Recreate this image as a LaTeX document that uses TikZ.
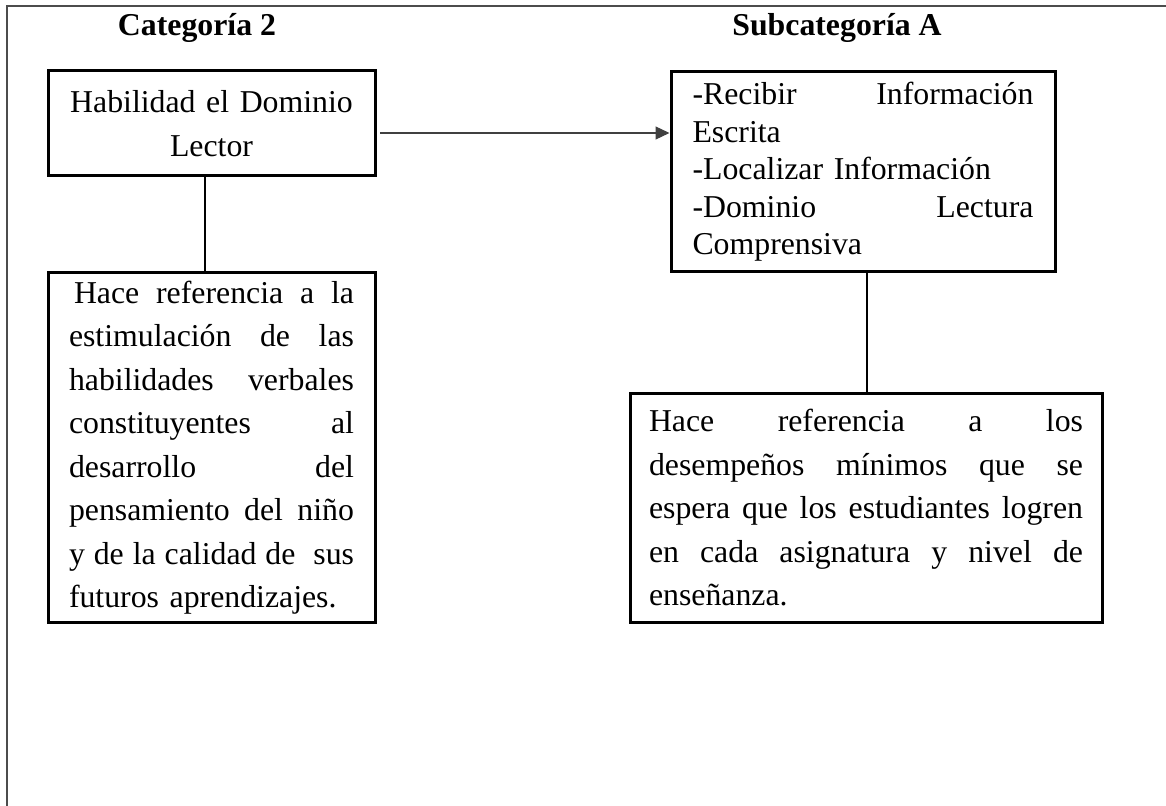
\documentclass[tikz,border=0pt]{standalone}
\usepackage{fontspec}
\setmainfont{Liberation Serif}
\usepackage{tikz}
\usetikzlibrary{arrows.meta}

\newcommand{\jl}[1]{\makebox[\linewidth][s]{\spaceskip=0pt\xspaceskip=0pt\relax#1}}

\begin{document}
\begin{tikzpicture}[x=0.5pt,y=-0.5pt,inner sep=0pt,
                    font=\fontsize{15.9pt}{21.75pt}\selectfont]
  \tikzstyle{caja}=[draw=black,line width=1.5pt,text=black]
  \tikzstyle{titulo}=[font=\fontsize{15.9pt}{21.75pt}\selectfont\bfseries,anchor=base]
  \tikzstyle{linea}=[draw=black,line width=1pt]
  \tikzstyle{flecha}=[draw=black!75,line width=0.6pt,-{Triangle[length=7pt,width=6.5pt]}]

  \useasboundingbox (0,0) rectangle (1166,806);
  % marco de la tabla
  \draw[black!70,line width=1pt] (1166,6.5) -- (7,6.5) -- (7,806);

  \node[titulo] (cat)  at (197,36) {Categoría 2};
  \node[titulo] (subc) at (837,36) {Subcategoría A};

  \node[caja,minimum width=163.5pt,minimum height=52.5pt,text width=150pt,
        align=center] (hab) at (211.5,123.5)
        {Habilidad el Dominio\\Lector};
  \node[caja,minimum width=192pt,minimum height=100pt,text width=170.5pt,
        align=left,font=\fontsize{15.9pt}{18.75pt}\selectfont] (rec) at (863,172)
        {\jl{-Recibir Información}\\
         Escrita\\
         -Localizar Información\\
         \jl{-Dominio Lectura}\\
         Comprensiva};
  \node[caja,minimum width=163.5pt,minimum height=175pt,text width=142.5pt,
        align=left] (ref1) at (211.5,447.5)
        {\jl{\hspace*{2.5pt}Hace referencia a la}\\
         \jl{estimulación de las}\\
         \jl{habilidades verbales}\\
         \jl{constituyentes al}\\
         \jl{desarrollo del}\\
         \jl{pensamiento del niño}\\
         \jl{y de la calidad de \ sus}\\
         futuros aprendizajes.};
  \node[caja,minimum width=236pt,minimum height=114pt,text width=217pt,
        align=left] (ref2) at (866,508)
        {\jl{Hace referencia a los}\\
         \jl{desempeños mínimos que se}\\
         \jl{espera que los estudiantes logren}\\
         \jl{en cada asignatura y nivel de}\\
         enseñanza.};

  \coordinate (ini) at (380,133);
  \draw[flecha] (ini) -- (ini -| rec.west);
  \draw[linea] ([xshift=-3.25pt]hab.south) -- ([xshift=-3.25pt]hab.south |- ref1.north);
  \draw[linea] ([xshift=2pt]rec.south) -- ([xshift=2pt]rec.south |- ref2.north);
\end{tikzpicture}
\end{document}
